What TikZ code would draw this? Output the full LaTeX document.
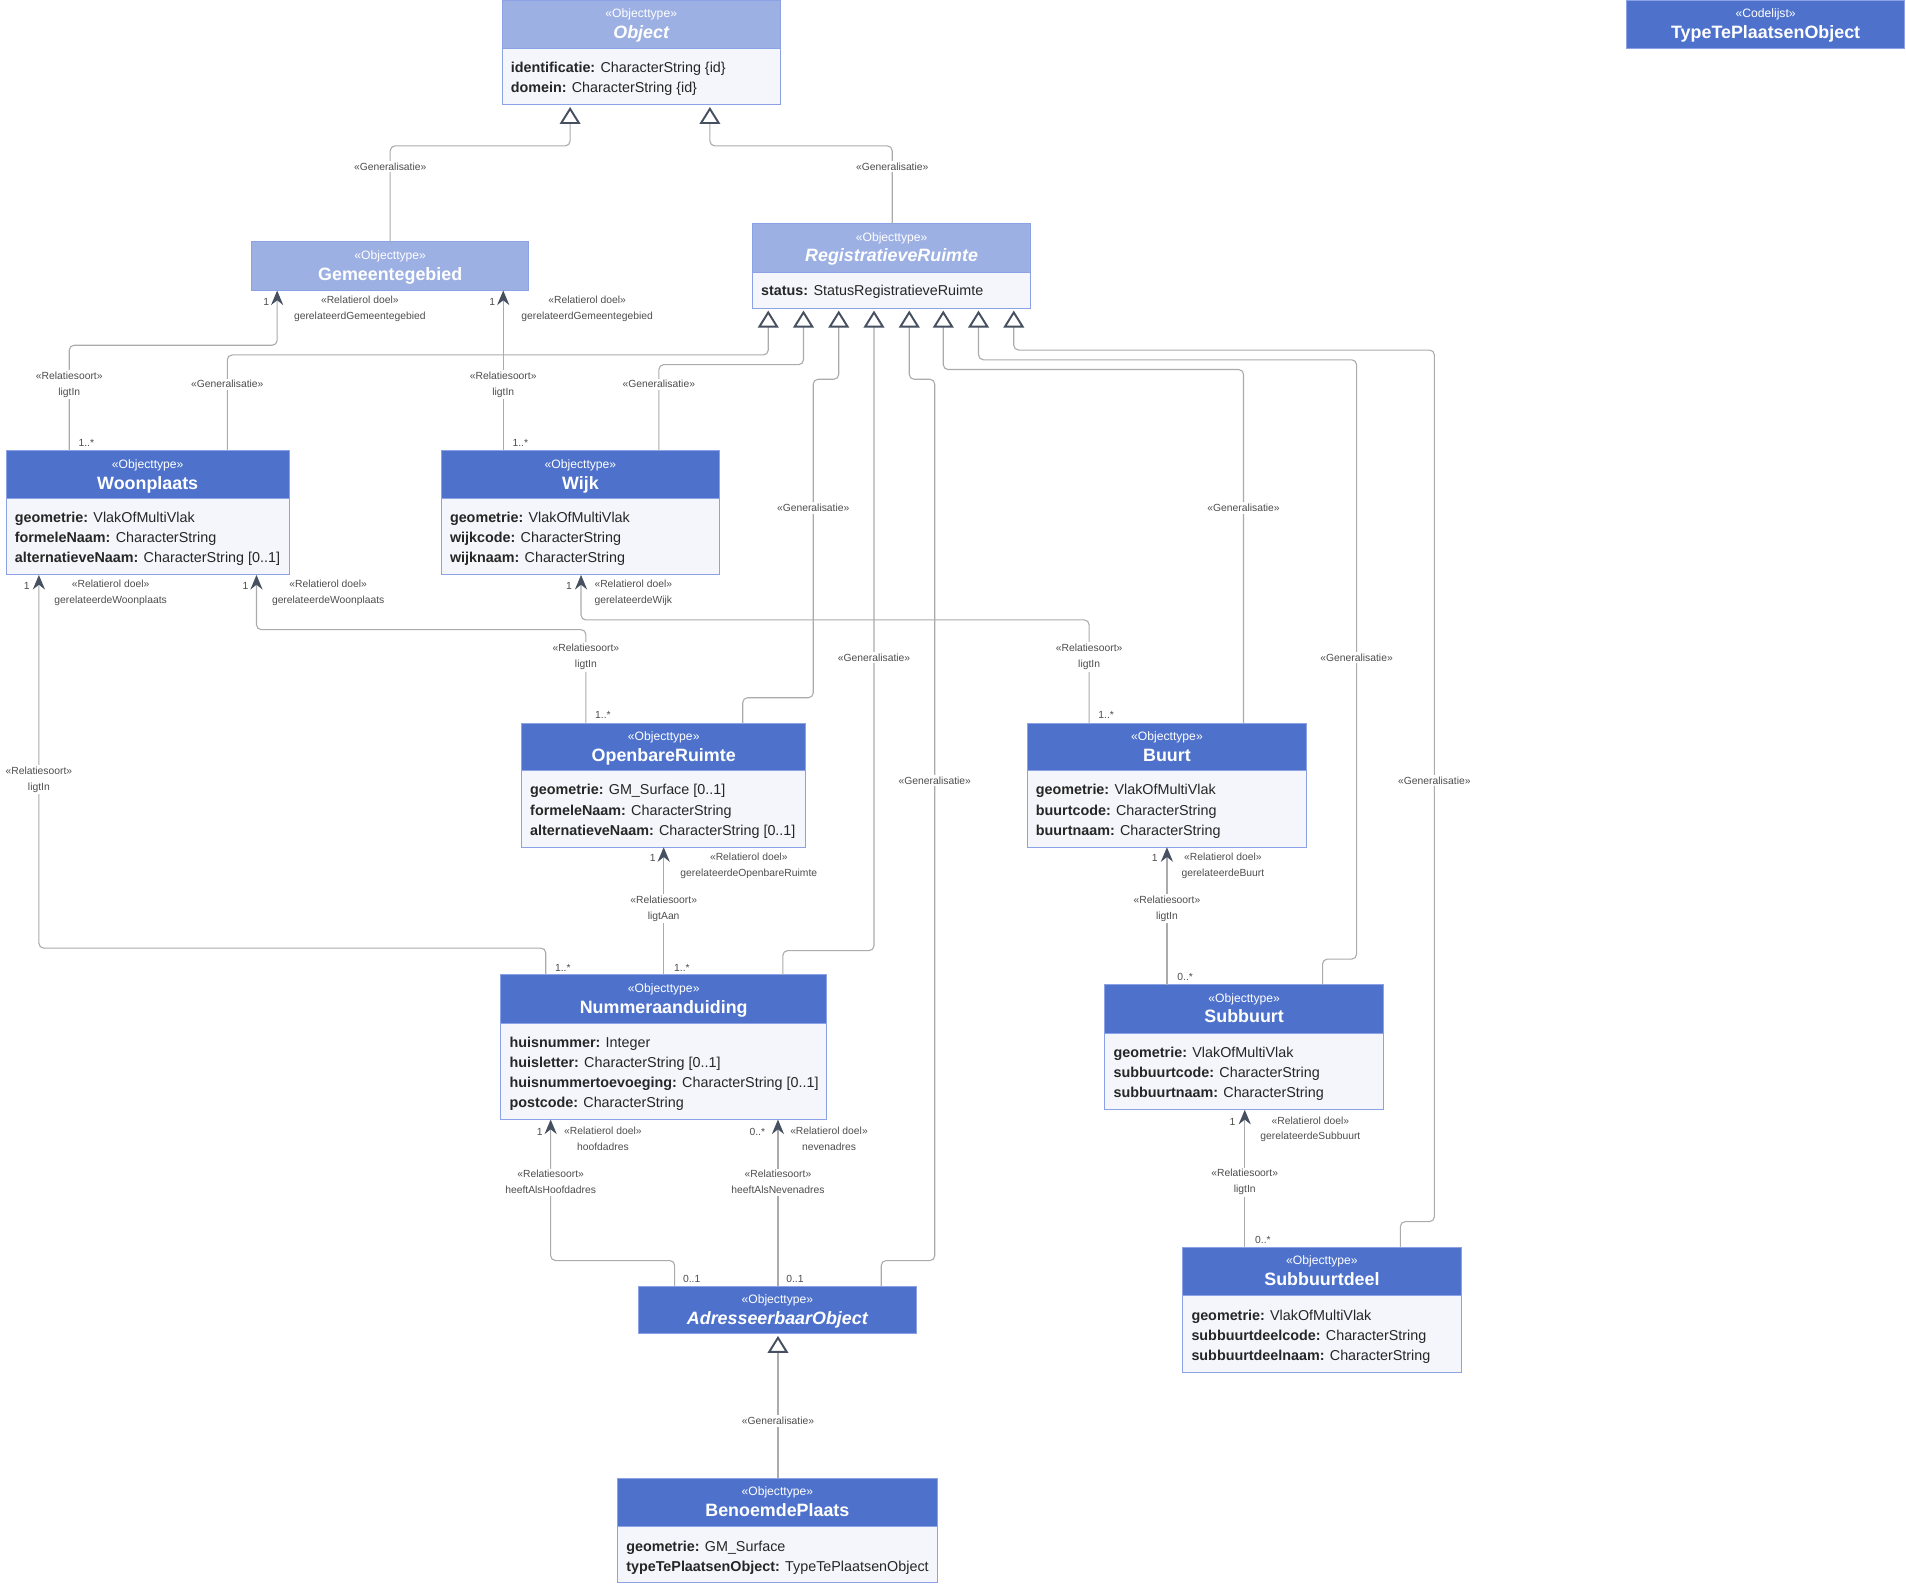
\documentclass[tikz,border=0pt]{standalone}
\usepackage{fontspec}
\setmainfont{Liberation Sans}
\usetikzlibrary{arrows.meta}
\definecolor{hdrlight}{HTML}{9DB0E3}
\definecolor{hdrdark}{HTML}{4E72CC}
\definecolor{bodyc}{HTML}{F5F6FB}
\definecolor{bordc}{HTML}{8BA3E6}
\definecolor{linec}{HTML}{ABABAB}
\definecolor{tipc}{HTML}{465060}
\definecolor{lblc}{HTML}{4D4D4D}
\definecolor{attrc}{HTML}{262626}
\tikzset{
 hbox/.style={draw=bordc, line width=0.8pt, anchor=north west, inner sep=0pt, outer sep=0pt},
 hl/.style={fill=hdrlight},
 hd/.style={fill=hdrdark},
 bbox/.style={draw=bordc, line width=0.8pt, fill=bodyc, anchor=north west, inner sep=0pt, outer sep=0pt},
 stereo/.style={anchor=base, text=white, font=\fontsize{10}{12}\selectfont, inner sep=0pt},
 ttl/.style={anchor=base, text=white, font=\fontsize{14.7}{17}\selectfont\bfseries, inner sep=0pt},
 attr/.style={anchor=base west, text=attrc, font=\fontsize{11.8}{14}\selectfont, inner sep=0pt},
 conn/.style={draw=linec, line width=0.9pt, rounded corners=4pt},
 gen/.style={conn, -{Triangle[length=14pt, width=17pt, line width=1.6pt, color=tipc, fill=white]}},
 assoc/.style={conn, -{Stealth[length=12pt, width=10pt, inset=4pt, color=tipc]}},
 lbl/.style={font=\fontsize{8.5}{13}\selectfont, text=lblc, fill=white, inner sep=1.5pt, align=center},
 role/.style={font=\fontsize{8.5}{13}\selectfont, text=lblc, inner sep=0pt, align=center},
 mult/.style={font=\fontsize{8.5}{10}\selectfont, text=lblc, inner sep=0pt},
}
\newcommand\umlhead[7]{%
  \node[hbox,#5,minimum width=#3pt,minimum height=#4pt] (#1) at (#2) {};
  \node[stereo] (#1-s) at ([yshift=-14.5pt]#1.north) {#6};
  \node[ttl] (#1-t) at ([yshift=-31.5pt]#1.north) {#7};}
\newcommand\umlbody[3]{%
  \node[bbox,minimum width=#2pt,minimum height=#3pt] (#1-b) at (#1.south west) {};}
\newcommand\umlattr[5]{%
  \node[attr] (#1-#5) at ([xshift=7pt,yshift=-#2pt]#1-b.north west) {\textbf{#3:} #4};}
\begin{document}
\begin{tikzpicture}[x=1pt,y=-1pt]
\useasboundingbox (0,0) rectangle (1568,1303);

% ---------- classes ----------
\umlhead{obj}{413,0}{229}{40}{hl}{«Objecttype»}{\itshape Object}
\umlbody{obj}{229}{46}
\umlattr{obj}{20}{identificatie}{CharacterString \{id\}}{a1}
\umlattr{obj}{36.5}{domein}{CharacterString \{id\}}{a2}

\umlhead{tpo}{1338,0}{229}{40}{hd}{«Codelijst»}{TypeTePlaatsenObject}

\umlhead{gem}{207,199}{228}{40}{hl}{«Objecttype»}{Gemeentegebied}

\umlhead{reg}{619,184}{229}{40}{hl}{«Objecttype»}{\itshape RegistratieveRuimte}
\umlbody{reg}{229}{30}
\umlattr{reg}{19.5}{status}{StatusRegistratieveRuimte}{a1}

\umlhead{woon}{5,371}{233}{39}{hd}{«Objecttype»}{Woonplaats}
\umlbody{woon}{233}{63}
\umlattr{woon}{20}{geometrie}{VlakOfMultiVlak}{a1}
\umlattr{woon}{36.5}{formeleNaam}{CharacterString}{a2}
\umlattr{woon}{53}{alternatieveNaam}{CharacterString [0..1]}{a3}

\umlhead{wijk}{363,371}{229}{39}{hd}{«Objecttype»}{Wijk}
\umlbody{wijk}{229}{63}
\umlattr{wijk}{20}{geometrie}{VlakOfMultiVlak}{a1}
\umlattr{wijk}{36.5}{wijkcode}{CharacterString}{a2}
\umlattr{wijk}{53}{wijknaam}{CharacterString}{a3}

\umlhead{openb}{429,595}{234}{39}{hd}{«Objecttype»}{OpenbareRuimte}
\umlbody{openb}{234}{63}
\umlattr{openb}{20}{geometrie}{GM\_Surface [0..1]}{a1}
\umlattr{openb}{36.5}{formeleNaam}{CharacterString}{a2}
\umlattr{openb}{53}{alternatieveNaam}{CharacterString [0..1]}{a3}

\umlhead{buurt}{845,595}{230}{39}{hd}{«Objecttype»}{Buurt}
\umlbody{buurt}{230}{63}
\umlattr{buurt}{20}{geometrie}{VlakOfMultiVlak}{a1}
\umlattr{buurt}{36.5}{buurtcode}{CharacterString}{a2}
\umlattr{buurt}{53}{buurtnaam}{CharacterString}{a3}

\umlhead{num}{412,802}{268}{40}{hd}{«Objecttype»}{Nummeraanduiding}
\umlbody{num}{268}{79}
\umlattr{num}{20}{huisnummer}{Integer}{a1}
\umlattr{num}{36.5}{huisletter}{CharacterString [0..1]}{a2}
\umlattr{num}{53}{huisnummertoevoeging}{CharacterString [0..1]}{a3}
\umlattr{num}{69.5}{postcode}{CharacterString}{a4}

\umlhead{sub}{909,810}{229}{40}{hd}{«Objecttype»}{Subbuurt}
\umlbody{sub}{229}{63}
\umlattr{sub}{20}{geometrie}{VlakOfMultiVlak}{a1}
\umlattr{sub}{36.5}{subbuurtcode}{CharacterString}{a2}
\umlattr{sub}{53}{subbuurtnaam}{CharacterString}{a3}

\umlhead{subd}{973,1026}{229}{40}{hd}{«Objecttype»}{Subbuurtdeel}
\umlbody{subd}{229}{63}
\umlattr{subd}{20}{geometrie}{VlakOfMultiVlak}{a1}
\umlattr{subd}{36.5}{subbuurtdeelcode}{CharacterString}{a2}
\umlattr{subd}{53}{subbuurtdeelnaam}{CharacterString}{a3}

\umlhead{adr}{525,1058}{229}{39}{hd}{«Objecttype»}{\itshape AdresseerbaarObject}

\umlhead{ben}{508,1216}{263}{40}{hd}{«Objecttype»}{BenoemdePlaats}
\umlbody{ben}{263}{46}
\umlattr{ben}{20}{geometrie}{GM\_Surface}{a1}
\umlattr{ben}{36.5}{typeTePlaatsenObject}{TypeTePlaatsenObject}{a2}

% ---------- generalisations ----------
\draw[gen] ([xshift=114pt]gem.north west) -- (321,120) -- (469,120) -- ([xshift=56pt,yshift=-2pt]obj-b.south west);
\draw[gen] ([xshift=115pt]reg.north west) -- (734,120) -- (584,120) -- ([xshift=171pt,yshift=-2pt]obj-b.south west);
\draw[gen] ([xshift=182pt]woon.north west) -- (187,292) -- (632,292) -- ([xshift=13pt,yshift=-1.5pt]reg-b.south west);
\draw[gen] ([xshift=179pt]wijk.north west) -- (542,300) -- (661,300) -- ([xshift=42pt,yshift=-1.5pt]reg-b.south west);
\draw[gen] ([xshift=182pt]openb.north west) -- (611,574) -- (669,574) -- (669,312) -- (690,312) -- ([xshift=71pt,yshift=-1.5pt]reg-b.south west);
\draw[gen] ([xshift=232pt]num.north west) -- (644,782) -- (719,782) -- ([xshift=100pt,yshift=-1.5pt]reg-b.south west);
\draw[gen] ([xshift=200pt]adr.north west) -- (725,1037) -- (769,1037) -- (769,312) -- (748,312) -- ([xshift=129pt,yshift=-1.5pt]reg-b.south west);
\draw[gen] ([xshift=178pt]buurt.north west) -- (1023,304) -- (776,304) -- ([xshift=157pt,yshift=-1.5pt]reg-b.south west);
\draw[gen] ([xshift=179pt]sub.north west) -- (1088,789) -- (1116,789) -- (1116,296) -- (805,296) -- ([xshift=186pt,yshift=-1.5pt]reg-b.south west);
\draw[gen] ([xshift=179pt]subd.north west) -- (1152,1005) -- (1180,1005) -- (1180,288) -- (834,288) -- ([xshift=215pt,yshift=-1.5pt]reg-b.south west);
\draw[gen] ([xshift=132pt]ben.north west) -- ([xshift=115pt,yshift=-2pt]adr.south west);

% ---------- associations ----------
\draw[assoc] ([xshift=52pt]woon.north west) -- (57,284) -- (228,284) -- ([xshift=21pt]gem.south west);
\draw[assoc] ([xshift=51pt]wijk.north west) -- ([xshift=207pt]gem.south west);
\draw[assoc] ([xshift=53pt]openb.north west) -- (482,518) -- (211,518) -- ([xshift=206pt]woon-b.south west);
\draw[assoc] ([xshift=37pt]num.north west) -- (449,780) -- (32,780) -- ([xshift=27pt]woon-b.south west);
\draw[assoc] ([xshift=51pt]buurt.north west) -- (896,510) -- (478,510) -- ([xshift=115pt]wijk-b.south west);
\draw[assoc] ([xshift=134pt]num.north west) -- ([xshift=117pt]openb-b.south west);
\draw[assoc] ([xshift=51pt]sub.north west) -- ([xshift=115pt]buurt-b.south west);
\draw[assoc] ([xshift=51pt]subd.north west) -- ([xshift=115pt]sub-b.south west);
\draw[assoc] ([xshift=30pt]adr.north west) -- (555,1037) -- (453,1037) -- ([xshift=41pt]num-b.south west);
\draw[assoc] ([xshift=115pt]adr.north west) -- ([xshift=228pt]num-b.south west);

% ---------- generalisation labels ----------
\node[lbl] (g1) at (321,137) {«Generalisatie»};
\node[lbl] (g2) at (734,137) {«Generalisatie»};
\node[lbl] (g3) at (187,316) {«Generalisatie»};
\node[lbl] (g4) at (542,316) {«Generalisatie»};
\node[lbl] (g5) at (669,418) {«Generalisatie»};
\node[lbl] (g6) at (719,541) {«Generalisatie»};
\node[lbl] (g7) at (769,642) {«Generalisatie»};
\node[lbl] (g8) at (1023,418) {«Generalisatie»};
\node[lbl] (g9) at (1116,541) {«Generalisatie»};
\node[lbl] (g10) at (1180,642) {«Generalisatie»};
\node[lbl] (g11) at (640,1169) {«Generalisatie»};

% ---------- association labels ----------
\node[lbl] (r1) at (57,316.5) {«Relatiesoort»\\ligtIn};
\node[lbl] (r2) at (414,316.5) {«Relatiesoort»\\ligtIn};
\node[lbl] (r3) at (482,540.5) {«Relatiesoort»\\ligtIn};
\node[lbl] (r4) at (32,641.5) {«Relatiesoort»\\ligtIn};
\node[lbl] (r5) at (896,540.5) {«Relatiesoort»\\ligtIn};
\node[lbl] (r6) at (546,747.5) {«Relatiesoort»\\ligtAan};
\node[lbl] (r7) at (960,747.5) {«Relatiesoort»\\ligtIn};
\node[lbl] (r8) at (1024,972.5) {«Relatiesoort»\\ligtIn};
\node[lbl] (r9) at (453,972.5) {«Relatiesoort»\\heeftAlsHoofdadres};
\node[lbl] (r10) at (640,972.5) {«Relatiesoort»\\heeftAlsNevenadres};

\node[role] (d1) at (296,254) {«Relatierol doel»\\gerelateerdGemeentegebied};
\node[role] (d2) at (483,254) {«Relatierol doel»\\gerelateerdGemeentegebied};
\node[role] (d3) at (270,488) {«Relatierol doel»\\gerelateerdeWoonplaats};
\node[role] (d4) at (91,488) {«Relatierol doel»\\gerelateerdeWoonplaats};
\node[role] (d5) at (521,488) {«Relatierol doel»\\gerelateerdeWijk};
\node[role] (d6) at (616,712) {«Relatierol doel»\\gerelateerdeOpenbareRuimte};
\node[role] (d7) at (1006,712) {«Relatierol doel»\\gerelateerdeBuurt};
\node[role] (d8) at (1078,929) {«Relatierol doel»\\gerelateerdeSubbuurt};
\node[role] (d9) at (496,937) {«Relatierol doel»\\hoofdadres};
\node[role] (d10) at (682,937) {«Relatierol doel»\\nevenadres};

% ---------- multiplicities ----------
\node[mult] (m1t) at (219,248) {1};
\node[mult] (m2t) at (405,248) {1};
\node[mult] (m3t) at (202,482) {1};
\node[mult] (m4t) at (22,482) {1};
\node[mult] (m5t) at (468,482) {1};
\node[mult] (m6t) at (537,706) {1};
\node[mult] (m7t) at (950,706) {1};
\node[mult] (m8t) at (1014,923) {1};
\node[mult] (m9t) at (444,931) {1};
\node[mult] (m10t) at (623,931) {0..*};
\node[mult] (m1s) at (71,364) {1..*};
\node[mult] (m2s) at (428,364) {1..*};
\node[mult] (m3s) at (496,588) {1..*};
\node[mult] (m4s) at (463,796) {1..*};
\node[mult] (m5s) at (910,588) {1..*};
\node[mult] (m6s) at (561,796) {1..*};
\node[mult] (m7s) at (975,804) {0..*};
\node[mult] (m8s) at (1039,1020) {0..*};
\node[mult] (m9s) at (569,1052) {0..1};
\node[mult] (m10s) at (654,1052) {0..1};
\end{tikzpicture}
\end{document}
